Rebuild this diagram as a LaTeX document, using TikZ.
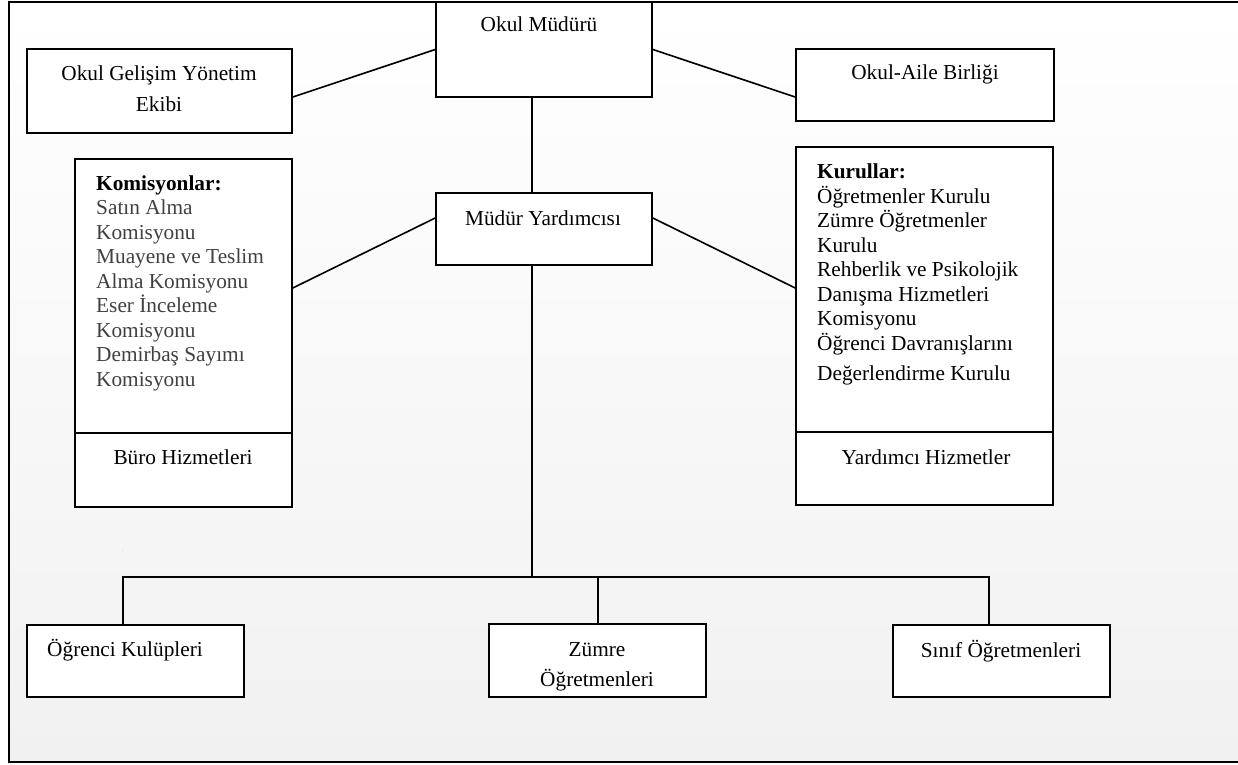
\documentclass[tikz,border=0pt]{standalone}
\usepackage{fontspec}
\setmainfont{Liberation Serif}
\usepackage{tikz}
\definecolor{listegri}{RGB}{64,64,64}
\definecolor{zemin}{RGB}{241,241,241}
\tikzset{
	kutu/.style={draw=black,line width=1.6pt,fill=white,inner sep=0pt},
	yazi/.style={font=\fontsize{21.3}{24.5}\selectfont,inner sep=0pt},
	baglanti/.style={draw=black,line width=1.6pt}
}

\begin{document}
\begin{tikzpicture}[x=1pt,y=-1pt]
	\useasboundingbox (0,0) rectangle (1238,764);
	\shade[top color=white,bottom color=zemin] (9,2) rectangle (1238,762);
	\draw[line width=2pt] (1240,2) -- (9,2) -- (9,762) -- (1240,762);

	% kutular
	\node[kutu,minimum width=216,minimum height=95] (mudur) at (544,49.5) {};
	\node[kutu,minimum width=216,minimum height=72] (yard) at (544,229) {};
	\node[kutu,minimum width=265,minimum height=84] (ogye) at (159.5,91) {};
	\node[kutu,minimum width=258,minimum height=72] (aile) at (925,85) {};
	\node[kutu,minimum width=217,minimum height=274] (kom) at (183.5,296) {};
	\node[kutu,minimum width=217,minimum height=74] (buro) at (183.5,470) {};
	\node[kutu,minimum width=257,minimum height=285] (kur) at (924.5,289.5) {};
	\node[kutu,minimum width=257,minimum height=73] (yrd) at (924.5,468.5) {};
	\node[kutu,minimum width=217,minimum height=72] (kulup) at (135.5,661) {};
	\node[kutu,minimum width=217,minimum height=73] (zumre) at (597.5,660.5) {};
	\node[kutu,minimum width=217,minimum height=72] (sinif) at (1001.5,661) {};

	% yazilar (cok satirli olanlar son satirin tabanina gore)
	\node[yazi,anchor=base] (t-mudur) at (539,31) {Okul Müdürü};
	\node[yazi,anchor=base] (t-yard) at (543,225) {Müdür Yardımcısı};
	\node[yazi,anchor=base,align=center,font=\fontsize{21.3}{31}\selectfont] (t-ogye) at (159,111) {Okul Gelişim Yönetim\\Ekibi};
	\node[yazi,anchor=base] (t-aile) at (925,79) {Okul-Aile Birliği};
	\node[yazi,anchor=base west,align=left] (t-kom) at (96,386) {\textbf{Komisyonlar:}\\
		\textcolor{listegri}{Satın Alma}\\
		\textcolor{listegri}{Komisyonu}\\
		\textcolor{listegri}{Muayene ve Teslim}\\
		\textcolor{listegri}{Alma Komisyonu}\\
		\textcolor{listegri}{Eser İnceleme}\\
		\textcolor{listegri}{Komisyonu}\\
		\textcolor{listegri}{Demirbaş Sayımı}\\
		\textcolor{listegri}{Komisyonu}};
	\node[yazi,anchor=base] (t-buro) at (183,464) {Büro Hizmetleri};
	\node[yazi,anchor=base west,align=left] (t-kur) at (817,380) {\textbf{Kurullar:}\\
		Öğretmenler Kurulu\\
		Zümre Öğretmenler\\
		Kurulu\\
		Rehberlik ve Psikolojik\\
		Danışma Hizmetleri\\
		Komisyonu\\
		Öğrenci Davranışlarını\\[5.5pt]
		Değerlendirme Kurulu};
	\node[yazi,anchor=base] (t-yrd) at (926,464) {Yardımcı Hizmetler};
	\node[yazi,anchor=base] (t-kulup) at (125,656) {Öğrenci Kulüpleri};
	\node[yazi,anchor=base,align=center,font=\fontsize{21.3}{30}\selectfont] (t-zumre) at (597,686) {Zümre\\Öğretmenleri};
	\node[yazi,anchor=base] (t-sinif) at (1001,657) {Sınıf Öğretmenleri};
	\node[font=\tiny,text=gray,inner sep=0pt] (nokta) at (123,551) {.};

	% baglantilar
	\coordinate (bus) at (532,577);
	\draw[baglanti] (mudur.west) -- ([yshift=-6]ogye.east);
	\draw[baglanti] (mudur.east) -- ([yshift=-12]aile.west);
	\draw[baglanti] ([xshift=-12]mudur.south) -- ([xshift=-12]yard.north);
	\draw[baglanti] ([yshift=11]yard.west) -- ([yshift=8]kom.east);
	\draw[baglanti] ([yshift=11]yard.east) -- ([yshift=1.5]kur.west);
	\draw[baglanti] ([xshift=-12]yard.south) -- (bus);
	\draw[baglanti] ([xshift=-12.5]kulup.north) |- (bus) -| ([xshift=-12.5]sinif.north);
	\draw[baglanti] ([xshift=0.5]zumre.north) -- ([xshift=0.5]zumre.north |- bus);
\end{tikzpicture}
\end{document}
